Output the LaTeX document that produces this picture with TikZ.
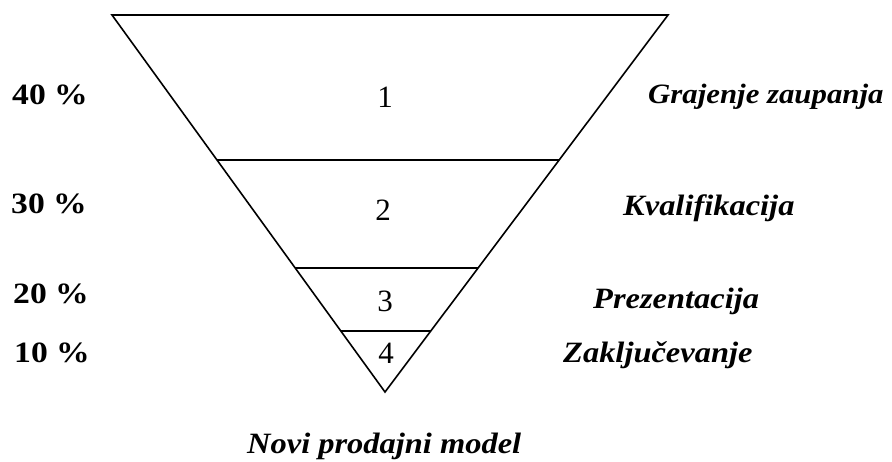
\documentclass[tikz,border=0pt]{standalone}
\usepackage{fontspec}
\setmainfont{Liberation Serif}
\newfontfamily\widefont[FakeStretch=1.1]{Liberation Serif}
\newfontfamily\pctfont[FakeStretch=1.14]{Liberation Serif}
\begin{document}
\begin{tikzpicture}[x=1pt,y=-1pt,
  lbl/.style={font=\widefont\fontsize{29.5}{34}\selectfont\bfseries\itshape, anchor=base west, inner sep=0pt},
  pct/.style={font=\pctfont\fontsize{29.5}{34}\selectfont\bfseries, anchor=base west, inner sep=0pt},
  num/.style={font=\fontsize{31}{36}\selectfont, anchor=base, inner sep=0pt},
  edge/.style={line width=1.6pt, line join=miter}]
\useasboundingbox (0,0) rectangle (892,461);
\coordinate (tl) at (112,15);
\coordinate (tr) at (668,15);
\coordinate (ap) at (385,392);
\draw[edge] (tl) -- (tr) -- (ap) -- cycle;
\coordinate (l1) at (217,160); \coordinate (r1) at (559,160);
\coordinate (l2) at (295,268); \coordinate (r2) at (478,268);
\coordinate (l3) at (341,331); \coordinate (r3) at (431,331);
\draw[edge] (l1) -- (r1);
\draw[edge] (l2) -- (r2);
\draw[edge] (l3) -- (r3);
\node[num] (n1) at (385,107) {1};
\node[num] (n2) at (383,220) {2};
\node[num] (n3) at (385,311) {3};
\node[num] (n4) at (386,363) {4};
\node[pct] (p1) at (12,104) {40 \%};
\node[pct] (p2) at (11,213) {30 \%};
\node[pct] (p3) at (13,303) {20 \%};
\node[pct] (p4) at (14,362) {10 \%};
\node[lbl, font=\widefont\fontsize{28}{34}\selectfont\bfseries\itshape] (g) at (648,103) {Grajenje zaupanja};
\node[lbl] (k) at (623,215) {Kvalifikacija};
\node[lbl] (p) at (593,308) {Prezentacija};
\node[lbl] (z) at (563,362) {Zaključevanje};
\node[lbl] (m) at (247,453) {Novi prodajni model};
\end{tikzpicture}
\end{document}
